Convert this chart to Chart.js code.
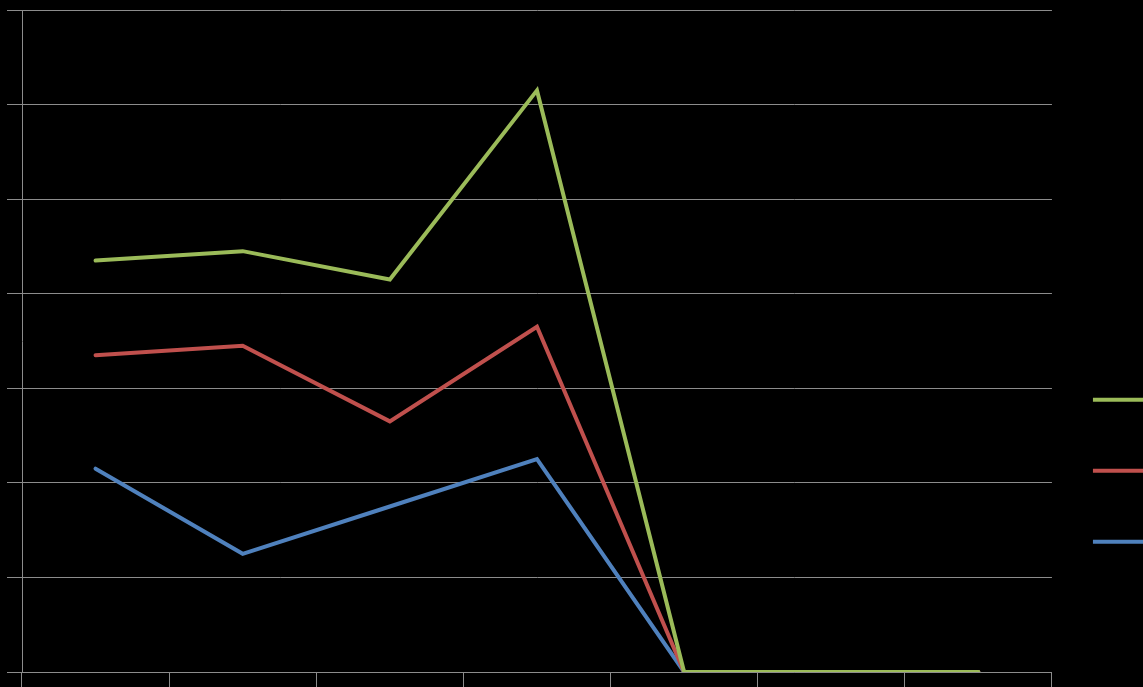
<!DOCTYPE html>
<html>
<head>
<meta charset="utf-8">
<script src="https://cdn.jsdelivr.net/npm/chart.js@4.4.0/dist/chart.umd.min.js"></script>
<style>
  html, body { margin: 0; padding: 0; background: #000; overflow: hidden; width: 1143px; height: 687px; }
  #wrap { position: absolute; left: 0; top: 0; height: 687px; }
</style>
</head>
<body>
<div id="wrap"><canvas id="c"></canvas></div>
<script>
const categories = ['1', '2', '3', '4', '5', '6', '7'];
const seriesNames = ['Series 3', 'Series 2', 'Series 1'];
const greenValues = [4.35, 4.45, 4.15, 6.15, 0, 0, 0];
const redValues   = [3.35, 3.45, 2.65, 3.65, 0, 0, 0];
const blueValues  = [2.15, 1.25, 1.75, 2.25, 0, 0, 0];
const yTicks = { min: 0, max: 7, step: 1 };

const legendFont = { family: 'Liberation Sans', size: 30 };
const legendPad = 41;
const legendBox = 60;
const plotRight = 1051;

// measure legend text width so the plot area ends where the reference does
const mctx = document.createElement('canvas').getContext('2d');
mctx.font = legendFont.size + 'px ' + legendFont.family;
let textW = 0;
seriesNames.forEach(n => { textW = Math.max(textW, mctx.measureText(n).width); });
const legendW = legendPad + legendBox + legendFont.size / 2 + textW + 10;
const canvasW = Math.ceil(plotRight + legendW);

const wrap = document.getElementById('wrap');
wrap.style.width = canvasW + 'px';

const gridColor = '#8c8c8c';

new Chart(document.getElementById('c'), {
  type: 'line',
  data: {
    labels: categories,
    datasets: [
      { label: seriesNames[0], data: greenValues, borderColor: '#9BBB59', backgroundColor: '#9BBB59' },
      { label: seriesNames[1], data: redValues, borderColor: '#C0504D', backgroundColor: '#C0504D' },
      { label: seriesNames[2], data: blueValues, borderColor: '#4F81BD', backgroundColor: '#4F81BD' }
    ].map(d => Object.assign(d, { borderWidth: 4, pointRadius: 0, pointHoverRadius: 0, tension: 0, fill: false, borderCapStyle: 'round', borderJoinStyle: 'miter' }))
  },
  options: {
    responsive: true,
    maintainAspectRatio: false,
    animation: false,
    events: [],
    layout: { padding: { left: 7, top: 10, right: 0, bottom: 0 } },
    scales: {
      x: {
        offset: true,
        grid: { offset: true, drawOnChartArea: false, drawTicks: true, tickLength: 15, color: gridColor, lineWidth: 1 },
        border: { display: true, color: gridColor, width: 1 },
        ticks: { display: false }
      },
      y: {
        min: yTicks.min,
        max: yTicks.max,
        ticks: { display: false, stepSize: yTicks.step },
        grid: { drawOnChartArea: true, drawTicks: true, tickLength: 15, color: gridColor, lineWidth: 1 },
        border: { display: true, color: gridColor, width: 1 }
      }
    },
    plugins: {
      legend: {
        display: true,
        position: 'right',
        align: 'center',
        title: { display: true, text: ' ', color: '#000000', font: { size: 12 }, padding: { top: 230, bottom: 0 } },
        labels: {
          usePointStyle: true,
          pointStyle: 'line',
          pointStyleWidth: legendBox,
          padding: legendPad,
          color: '#000000',
          font: legendFont
        }
      },
      tooltip: { enabled: false },
      title: { display: false }
    }
  }
});
</script>
</body>
</html>
